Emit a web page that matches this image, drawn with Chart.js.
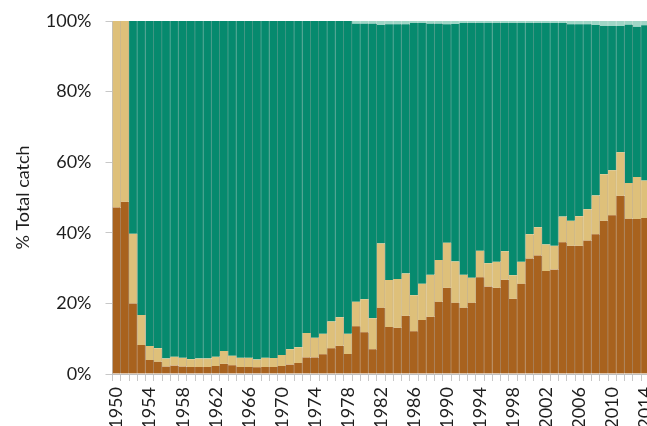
<!DOCTYPE html>
<html>
<head>
<meta charset="utf-8">
<script src="https://cdn.jsdelivr.net/npm/chart.js@4/dist/chart.umd.min.js"></script>
<style>
  html, body { margin: 0; padding: 0; background: #fff; overflow: hidden; }
  #wrap { width: 647px; height: 426px; overflow: hidden; }
</style>
</head>
<body>
<div id="wrap"><canvas id="catchChart" width="652" height="426"></canvas></div>
<script>
// years shown on the x axis (the picture is cut off after 2014)
const years = [];
for (let y = 1950; y <= 2014; y++) years.push(String(y));

// shares of total catch, %, bottom to top
const brownShare = [47.2, 48.8, 20.0, 8.2, 4.0, 3.5, 2.1, 2.4, 2.1, 2.0,
  2.0, 2.0, 2.3, 2.9, 2.5, 2.0, 2.0, 1.9, 2.0, 2.0,
  2.3, 2.7, 3.1, 4.7, 4.7, 5.6, 7.3, 8.0, 5.7, 13.5,
  11.8, 7.0, 18.8, 13.3, 13.1, 16.5, 12.1, 15.3, 16.2, 20.5,
  24.4, 20.2, 18.8, 20.2, 27.4, 24.8, 24.4, 26.7, 21.3, 25.6,
  32.7, 33.6, 29.2, 29.6, 37.3, 36.3, 36.3, 37.8, 39.6, 43.4,
  45.0, 50.5, 44.0, 43.9, 44.2];

const tanShare = [52.8, 51.2, 19.7, 8.5, 3.9, 3.8, 2.3, 2.5, 2.5, 2.2,
  2.4, 2.4, 2.6, 3.6, 2.7, 2.6, 2.6, 2.2, 2.6, 2.5,
  3.1, 4.3, 4.5, 6.9, 5.6, 5.8, 7.6, 8.1, 5.7, 7.0,
  9.4, 8.8, 18.2, 13.3, 13.8, 12.0, 10.2, 10.3, 11.9, 11.8,
  12.8, 11.7, 9.3, 7.1, 7.5, 6.6, 7.4, 8.1, 6.7, 6.2,
  6.9, 8.0, 7.5, 6.7, 7.3, 7.1, 8.4, 8.9, 11.0, 13.2,
  12.7, 12.3, 10.1, 11.9, 10.6];

const tealShare = [0, 0, 60.3, 83.3, 92.1, 92.7, 95.6, 95.1, 95.4, 95.8,
  95.6, 95.6, 95.1, 93.5, 94.8, 95.4, 95.4, 95.9, 95.4, 95.5,
  94.6, 93.0, 92.4, 88.4, 89.7, 88.6, 85.1, 83.9, 88.6, 78.8,
  78.1, 83.5, 61.9, 72.5, 72.2, 70.6, 77.2, 73.9, 71.2, 67.0,
  61.9, 67.3, 71.4, 72.2, 64.6, 68.1, 67.7, 64.7, 71.5, 67.7,
  59.9, 57.9, 62.8, 63.2, 54.9, 55.7, 54.4, 52.4, 48.3, 42.0,
  40.9, 35.8, 44.9, 42.6, 44.0];

const lightShare = [0, 0, 0, 0, 0, 0, 0, 0, 0, 0,
  0, 0, 0, 0, 0, 0, 0, 0, 0, 0,
  0, 0, 0, 0, 0, 0, 0, 0, 0, 0.7,
  0.7, 0.7, 1.1, 0.9, 0.9, 0.9, 0.5, 0.5, 0.7, 0.7,
  0.9, 0.8, 0.5, 0.5, 0.5, 0.5, 0.5, 0.5, 0.5, 0.5,
  0.5, 0.5, 0.5, 0.5, 0.5, 0.9, 0.9, 0.9, 1.1, 1.4,
  1.4, 1.4, 1.0, 1.6, 1.2];

const yTicks = [0, 20, 40, 60, 80, 100];

const FONT = "Lato, 'Open Sans', sans-serif";

function series(data, fill, edge) {
  return {
    data: data,
    backgroundColor: fill,
    borderColor: edge,
    borderWidth: { top: 0, right: 1, bottom: 0, left: 0 },
    borderSkipped: false,
    barPercentage: 1,
    categoryPercentage: 1
  };
}

new Chart(document.getElementById("catchChart"), {
  type: "bar",
  data: {
    labels: years,
    datasets: [
      series(brownShare, "#a8621e", "#a98664"),
      series(tanShare, "#dec07a", "#c8b590"),
      series(tealShare, "#068a6e", "#529a8a"),
      series(lightShare, "#9fd6c6", "#bcdcd2")
    ]
  },
  options: {
    responsive: false,
    animation: false,
    layout: { padding: { top: 21, right: 2.6, bottom: 0, left: 0 } },
    plugins: {
      legend: { display: false },
      tooltip: { enabled: false }
    },
    scales: {
      x: {
        stacked: true,
        grid: { drawOnChartArea: false, color: "#c8c8c8", tickLength: 7 },
        border: { color: "#c0c0c0" },
        ticks: {
          autoSkip: false,
          minRotation: 90,
          maxRotation: 90,
          padding: 6,
          color: "#1e1e1e",
          font: { family: FONT, size: 18 },
          callback: (v, i) => (i % 4 === 0 ? years[i] : "")
        },
        afterFit: (s) => { s.height = 52; s.paddingLeft = 0; s.paddingRight = 0; }
      },
      y: {
        stacked: true,
        min: 0,
        max: 100,
        afterBuildTicks: (s) => { s.ticks = yTicks.map(v => ({ value: v })); },
        grid: { drawOnChartArea: false, color: "#c8c8c8", tickLength: 7 },
        border: { color: "#c0c0c0" },
        ticks: {
          padding: 14,
          color: "#1e1e1e",
          font: { family: FONT, size: 18 },
          callback: (v) => v + "%"
        },
        title: {
          display: true,
          text: "% Total catch",
          color: "#1e1e1e",
          font: { family: FONT, size: 18 },
          padding: { top: 12, bottom: 0 }
        },
        afterFit: (s) => { s.width = 112.5; s.paddingTop = 0; s.paddingBottom = 0; }
      }
    }
  }
});
</script>
</body>
</html>
